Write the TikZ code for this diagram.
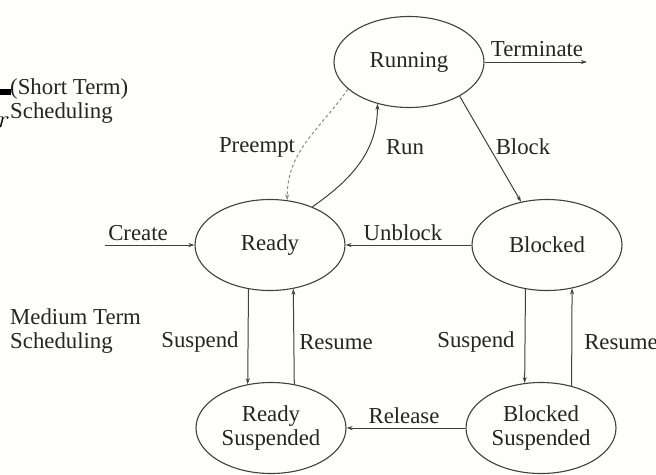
\documentclass[tikz,border=0pt]{standalone}
\usepackage{fontspec}
\setmainfont{Liberation Serif}
\usetikzlibrary{arrows.meta,shapes.geometric}
\definecolor{edgegray}{HTML}{404040}
\definecolor{dashgray}{HTML}{8A8A8A}
\definecolor{txtgray}{HTML}{252525}
\definecolor{paper}{HTML}{FEFEFB}

\begin{document}
\begin{tikzpicture}[x=1pt,y=-1pt,
  font=\fontsize{22.8}{23.5}\selectfont,
  every node/.style={text=txtgray},
  state/.style={ellipse,draw=edgegray,line width=1.1pt,minimum width=150pt,
    minimum height=91pt,inner sep=0pt,align=center},
  arr/.style={draw=edgegray,line width=1pt,-{Stealth[length=6pt,width=4pt]}},
  lbl/.style={inner sep=0pt},
  sidenote/.style={inner sep=0pt,anchor=west,align=left},
]
% page
\fill[paper] (0,0) rectangle (656,474);
\useasboundingbox (0,0) rectangle (656,474);

% states
\node[state] (Running) at (409,62)  {Running};
\node[state] (Ready)   at (270,245) {Ready};
\node[state] (Blocked) at (547,245) {Blocked};
\node[state] (ReadySusp)   at (271,428) {Ready\\Suspended};
\node[state] (BlockedSusp) at (541,428) {Blocked\\Suspended};

% free ends of the entry and exit arrows
\coordinate (createStart) at (105,245);
\coordinate (termEnd) at (587,62);

% transitions
\draw[arr] (createStart) -- (Ready.west);
\draw[arr] (Running.east) -- (termEnd);
\draw[arr] (Running.-34) -- (Blocked.121);
\draw[arr] (Ready.42) to[out=35,in=-90] (Running.-127);
\draw[arr,draw=dashgray,dash pattern=on 3pt off 2.5pt] (Running.204) to[out=-125,in=90] (Ready.69);
\draw[arr] (Blocked.west) -- (Ready.east);
\draw[arr] (Ready.-116.8) -- (ReadySusp.118.3);
\draw[arr] (ReadySusp.62.9) -- (Ready.-62);
\draw[arr] (Blocked.-116.8) -- (BlockedSusp.110);
\draw[arr] (BlockedSusp.54) -- (Blocked.-60.9);
\draw[arr] (BlockedSusp.west) -- (ReadySusp.east);

% transition labels
\node[lbl] (lTerm)    at (537,49)  {Terminate};
\node[lbl] (lPreempt) at (257,147) {Preempt};
\node[lbl] (lRun)     at (405,147) {Run};
\node[lbl] (lBlock)   at (523,147) {Block};
\node[lbl] (lCreate)  at (138,233) {Create};
\node[lbl] (lUnblock) at (403,233) {Unblock};
\node[lbl] (lSuspA)   at (200,342) {Suspend};
\node[lbl] (lResA)    at (336,342) {Resume};
\node[lbl] (lSuspB)   at (476,342) {Suspend};
\node[lbl] (lResB)    at (621,342) {Resume};
\node[lbl] (lRelease) at (404,416) {Release};

% scheduling notes
\node[sidenote] (shortTerm) at (10,101) {(Short Term)\\Scheduling};
\node[sidenote] (mediumTerm) at (10,331) {Medium Term\\Scheduling};

% stray fragment on the left edge
\fill[black] (0,89) rectangle (11,95);
\node[inner sep=0pt,anchor=base east,font=\fontsize{33}{33}\selectfont,text=black] (fragR) at (10,127) {$r$};
\end{tikzpicture}
\end{document}
